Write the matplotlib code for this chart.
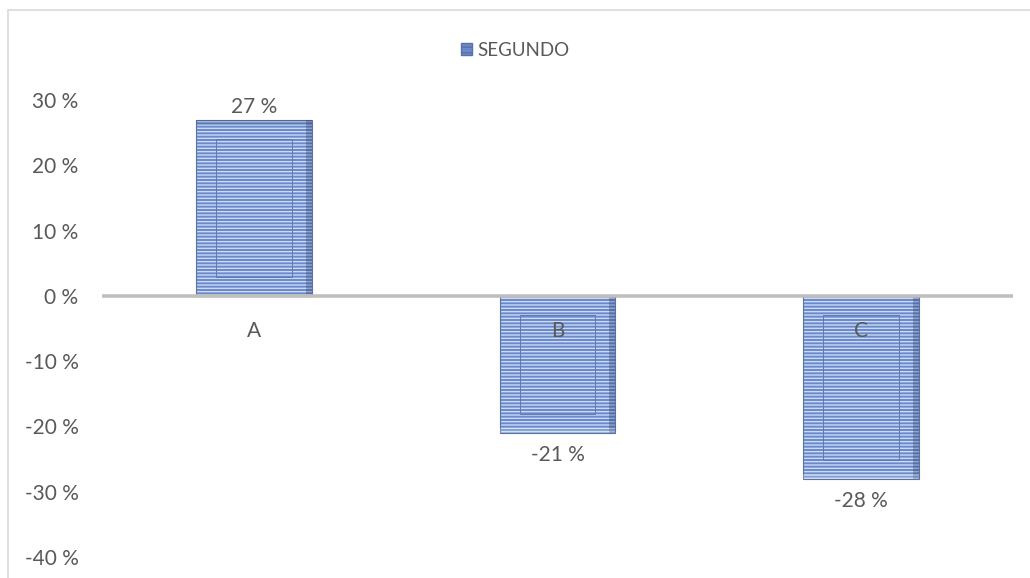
import matplotlib
matplotlib.use("Agg")
import matplotlib.pyplot as plt
import matplotlib.patches as mpatches
from matplotlib.ticker import FuncFormatter, MultipleLocator

# --- data ---
categories = ['A', 'B', 'C']
values = [0.27, -0.21, -0.28]
series_name = 'SEGUNDO'
y_min, y_max = -0.40, 0.30

plt.rcParams['font.family'] = ['Lato', 'DejaVu Sans']
plt.rcParams['hatch.linewidth'] = 1.0

text_col = '#595959'
face = '#6889cc'
stripe = '#cddaf2'
edge = '#5b70a3'
fs = 15

fig = plt.figure(figsize=(10.30, 5.78), dpi=100)
W, H = 1030, 578
ax = fig.add_axes([102 / W, (H - 557) / H, (1013 - 102) / W, (557 - 100) / H])

# chart frame (light grey, runs off right/bottom)
fig.patches.append(mpatches.Rectangle((8 / W, -0.1), 1.2, (H - 10) / H + 0.1,
                                      transform=fig.transFigure, fill=False,
                                      edgecolor='#d9d9d9', linewidth=1.2))

x = list(range(len(categories)))
bar_w = 0.38
# striped fill (hatch takes the edge colour), then the outline on top
ax.bar(x, values, width=bar_w, color=face, edgecolor=stripe, linewidth=0,
       hatch='-----', zorder=2)
ax.bar(x, values, width=bar_w, fill=False, edgecolor=edge, linewidth=0.8, zorder=3)

# bevel: darker right strip + inner outline
px_x = 1 / 303.7      # one pixel in data-x
px_y = 0.01 / 6.53    # one pixel in data-y
inset_x = 20 * px_x
inset_y = 19 * px_y
for xi, v in zip(x, values):
    sgn = 1 if v > 0 else -1
    ax.add_patch(mpatches.Rectangle((xi + bar_w / 2 - 6 * px_x, 0), 6 * px_x, v,
                                    facecolor='#2f4272', alpha=0.35, linewidth=0, zorder=3))
    ax.add_patch(mpatches.Rectangle((xi - bar_w / 2, v - sgn * 5 * px_y), bar_w, sgn * 5 * px_y,
                                    facecolor='#2f4272' if v > 0 else '#ffffff', alpha=0.2,
                                    linewidth=0, zorder=3))
    ax.add_patch(mpatches.Rectangle((xi - bar_w / 2 + inset_x, sgn * inset_y),
                                    bar_w - 2 * inset_x, v - 2 * sgn * inset_y,
                                    fill=False, edgecolor='#6079b3', linewidth=0.7, zorder=3))

# data labels
for xi, v in zip(x, values):
    off = 9 if v > 0 else -16
    ax.annotate(f'{v * 100:.0f} %', (xi, v), xytext=(0, off), textcoords='offset points',
                ha='center', va='center', fontsize=fs, color=text_col)

# zero line and category labels
ax.axhline(0, color='#bfbfbf', linewidth=2.6, zorder=4)
for xi, c in zip(x, categories):
    ax.annotate(c, (xi, 0), xytext=(0, -25), textcoords='offset points',
                ha='center', va='center', fontsize=fs, color=text_col, zorder=5)

ax.set_xlim(-0.5, len(categories) - 0.5)
ax.set_ylim(y_min, y_max)
ax.yaxis.set_major_locator(MultipleLocator(0.10))
ax.yaxis.set_major_formatter(FuncFormatter(lambda v, p: f'{v * 100:.0f} %'))
ax.tick_params(axis='y', length=0, pad=17, labelsize=fs, labelcolor=text_col)
ax.set_xticks([])
for s in ax.spines.values():
    s.set_visible(False)

handle = mpatches.Patch(facecolor=face, edgecolor=edge, hatch='---', label=series_name)
leg = fig.legend(handles=[handle], loc='center', bbox_to_anchor=(0.5, 1 - 50 / H),
                 frameon=False, fontsize=13.5, handlelength=0.6, handleheight=0.6,
                 handletextpad=0.3)
for t in leg.get_texts():
    t.set_color(text_col)

fig.savefig('out.png', dpi=100)
